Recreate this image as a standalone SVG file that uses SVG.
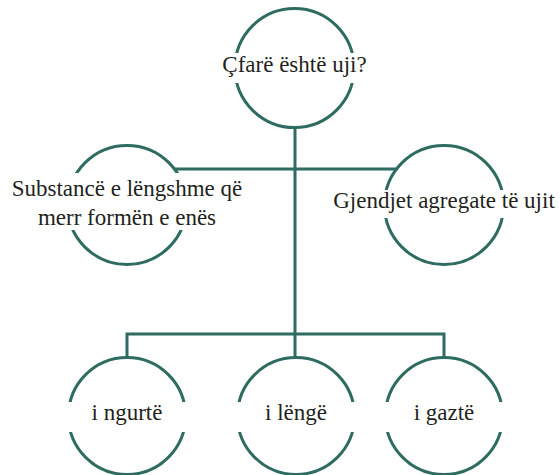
<svg xmlns="http://www.w3.org/2000/svg" width="559" height="475" viewBox="0 0 559 475">
<style>
.c{fill:none;stroke:#2e6b60;stroke-width:3}
.l{fill:none;stroke:#2e6b60;stroke-width:3}
.bg{fill:#ffffff}
.t{font-family:'Liberation Serif','DejaVu Serif',serif;font-size:23px;fill:#231f20;text-anchor:middle}
</style>
<rect width="559" height="475" fill="#ffffff"/>
<g id="connectors">
<path class="l" d="M295,128 V357"/>
<path class="l" d="M175,169 H397"/>
<path class="l" d="M127,357 V334 H444 V357"/>
</g>
<g id="n-top">
<circle class="c" cx="294.5" cy="68" r="59.5"/>
<rect class="bg" x="220" y="53" width="150" height="30"/>
<text class="t" x="294.5" y="72" font-family="Liberation Serif, DejaVu Serif, serif">Çfarë është uji?</text>
</g>
<g id="n-left">
<circle class="c" cx="127" cy="205" r="59.5"/>
<rect class="bg" x="5" y="173" width="245" height="57"/>
<text class="t" x="127" y="196" font-family="Liberation Serif, DejaVu Serif, serif">Substancë e lëngshme që</text>
<text class="t" x="127" y="225" font-family="Liberation Serif, DejaVu Serif, serif">merr formën e enës</text>
</g>
<g id="n-right">
<circle class="c" cx="444" cy="205" r="59.5"/>
<rect class="bg" x="328" y="190" width="231" height="28"/>
<text class="t" x="444" y="208" font-family="Liberation Serif, DejaVu Serif, serif">Gjendjet agregate të ujit</text>
</g>
<g id="n-solid">
<circle class="c" cx="127" cy="416" r="58.5"/>
<rect class="bg" x="62" y="402" width="130" height="30"/>
<text class="t" x="127" y="420" font-family="Liberation Serif, DejaVu Serif, serif">i ngurtë</text>
</g>
<g id="n-liquid">
<circle class="c" cx="296" cy="416" r="58.5"/>
<rect class="bg" x="231" y="402" width="130" height="30"/>
<text class="t" x="296" y="420" font-family="Liberation Serif, DejaVu Serif, serif">i lëngë</text>
</g>
<g id="n-gas">
<circle class="c" cx="444" cy="416" r="58.5"/>
<rect class="bg" x="379" y="402" width="130" height="30"/>
<text class="t" x="444" y="420" font-family="Liberation Serif, DejaVu Serif, serif">i gaztë</text>
</g>
</svg>
